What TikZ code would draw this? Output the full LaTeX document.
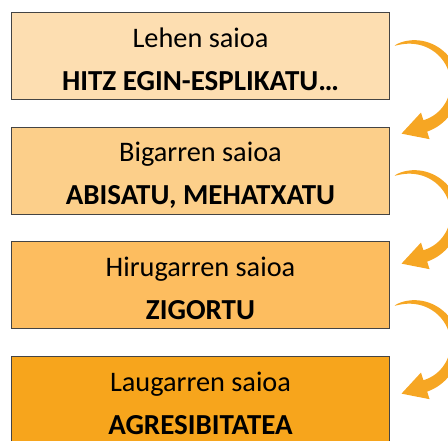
\documentclass[tikz,border=0pt]{standalone}
\usepackage{fontspec}
\setmainfont{Carlito}
\usetikzlibrary{positioning,calc}

\definecolor{boxline}{HTML}{444444}
\definecolor{sessionA}{HTML}{FDDEB1}
\definecolor{sessionB}{HTML}{FCCF8A}
\definecolor{sessionC}{HTML}{FDBD5F}
\definecolor{sessionD}{HTML}{F7A51C}
\definecolor{turnfill}{HTML}{F6A623}

% saio baten testua: izena eta gaia
\newcommand\saioa[2]{\rule{0pt}{29pt}#1\\%
  {\bfseries\fontsize{29}{43.5}\selectfont #2}\rule[-3pt]{0pt}{3pt}}

\tikzset{
  session/.style={draw=boxline, line width=1.1pt, minimum width=378pt,
    minimum height=87pt, inner sep=0pt, align=center,
    font=\fontsize{28.3}{43.5}\selectfont},
  turn/.pic={
    \fill[turnfill]
      plot[domain=114:-72, samples=60] (\x:{43+6*((114-\x)/186)^0.6})
      -- (-72:57) -- ($(-72:43)+(-162:25)$) -- (-72:29)
      -- plot[domain=-72:114, samples=60] (\x:{43-6*((114-\x)/186)^0.6})
      -- cycle;
  }
}

\begin{document}
\begin{tikzpicture}[x=1pt, y=1pt, node distance=26.5pt]
  \useasboundingbox (0,0) rectangle (448,440);
  \clip (0,0) rectangle (448,440);

  % saioak
  \node[session, fill=sessionA] (lehen) at (200.5,384)
    {\saioa{Lehen saioa}{HITZ EGIN-ESPLIKATU\dots}};
  \node[session, fill=sessionB] (bigarren)   [below=of lehen]
    {\saioa{Bigarren saioa}{ABISATU, MEHATXATU}};
  \node[session, fill=sessionC] (hirugarren) [below=of bigarren]
    {\saioa{Hirugarren saioa}{ZIGORTU}};
  \node[session, fill=sessionD] (laugarren)  [below=of hirugarren]
    {\saioa{Laugarren saioa}{AGRESIBITATEA}};

  % geziak
  \pic at (412,355) {turn};
  \pic at (412,225) {turn};
  \pic at (412,95)  {turn};
\end{tikzpicture}
\end{document}
